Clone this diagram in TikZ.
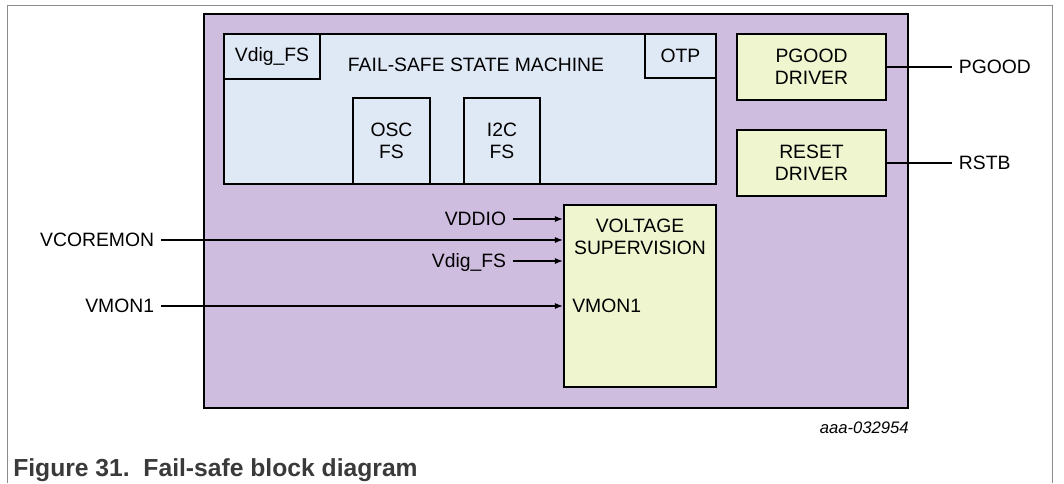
\documentclass[tikz,border=0pt]{standalone}
\usepackage{fontspec}
\setmainfont{Liberation Sans}
\usetikzlibrary{arrows.meta}
\definecolor{fspurple}{HTML}{CFBDE0}
\definecolor{fsblue}{HTML}{DFE8F5}
\definecolor{fsyellow}{HTML}{EFF6CF}
\definecolor{fsgray}{HTML}{8C8C8C}
\definecolor{fscap}{HTML}{3A3A3A}
\begin{document}
\begin{tikzpicture}[x=0.75pt,y=-0.75pt,
  font=\fontsize{14.5}{16.5}\selectfont,
  blk/.style={draw,line width=1.6pt,inner sep=0pt,align=center},
  sig/.style={line width=0.8pt,-{Latex[length=6pt,width=4.5pt]}},
  wire/.style={line width=0.8pt},
  pin/.style={inner sep=5pt,text height=10.4pt,text depth=0pt}]
\useasboundingbox (0,0) rectangle (1064,483);
\draw[fsgray,line width=0.6pt] (7,483) -- (7,5) -- (1052,5) -- (1052,483);
\node[blk,fill=fspurple,minimum width=528pt,minimum height=295.5pt] (fsblock) at (556,211) {};
\node[blk,fill=fsblue,minimum width=369pt,minimum height=112.5pt] (fsm) at (470,109) {};
\node (fsmtitle) at (476,65) {FAIL-SAFE STATE MACHINE};
\node[blk,fill=fsblue,minimum width=72pt,minimum height=33.75pt] (vdig) at (272,56.5) {Vdig\_FS};
\node[blk,fill=fsblue,minimum width=53.25pt,minimum height=33pt] (otp) at (680.5,56) {OTP};
\node[blk,fill=fsblue,minimum width=57.75pt,minimum height=64.5pt] (osc) at (391.5,141) {OSC\\FS};
\node[blk,fill=fsblue,minimum width=57pt,minimum height=64.5pt] (i2c) at (502,141) {I2C\\FS};
\node[blk,fill=fsyellow,minimum width=111.75pt,minimum height=49.5pt] (pgood) at (811.5,67) {PGOOD\\DRIVER};
\node[blk,fill=fsyellow,minimum width=111.75pt,minimum height=49.5pt] (reset) at (811.5,163) {RESET\\DRIVER};
\node[blk,fill=fsyellow,minimum width=114pt,minimum height=136.5pt] (vs) at (640,296) {};
\node[align=center] (vstitle) at (640,237) {VOLTAGE\\SUPERVISION};
\node[anchor=west,inner sep=0pt] (vsmon) at (572,306) {VMON1};

\node[pin,anchor=east] (vddio) at (513,219) {VDDIO};
\node[pin,anchor=east] (vdigin) at (513,261) {Vdig\_FS};
\node[pin,anchor=east] (vcore) at (161,240) {VCOREMON};
\node[pin,anchor=east] (vmon) at (161,306) {VMON1};
\draw[sig] (vddio) -- (vddio -| vs.west);
\draw[sig] (vcore) -- (vcore -| vs.west);
\draw[sig] (vdigin) -- (vdigin -| vs.west);
\draw[sig] (vmon) -- (vmon -| vs.west);

\node[pin,anchor=west] (pgoodout) at (952,67) {PGOOD};
\node[pin,anchor=west] (rstb) at (952,163) {RSTB};
\draw[wire] (pgood) -- (pgoodout);
\draw[wire] (reset) -- (rstb);

\node[anchor=base east,inner sep=0pt,font=\itshape\fontsize{12.5}{14}\selectfont] (figid) at (909,433) {aaa-032954};
\node[anchor=base west,inner sep=0pt,text=fscap,font=\bfseries\fontsize{18.5}{20}\selectfont] (caption) at (13,476) {Figure 31.\ \ Fail-safe block diagram};
\end{tikzpicture}
\end{document}
